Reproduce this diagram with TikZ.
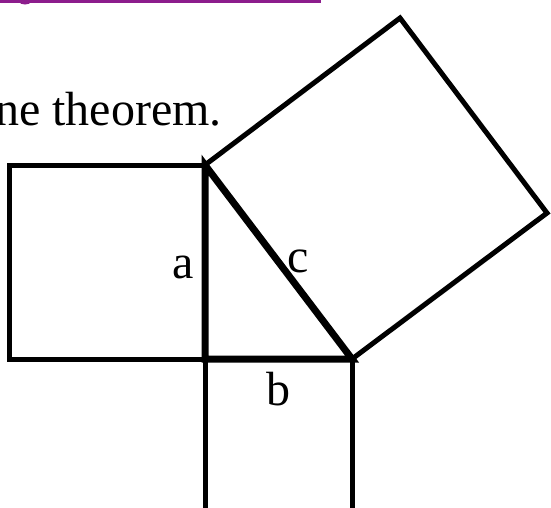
\documentclass[tikz,border=0pt]{standalone}
\usepackage{fontspec}
\setmainfont{Liberation Serif}
\definecolor{hdpurple}{HTML}{8C1D8C}
\usetikzlibrary{positioning}

\begin{document}
\begin{tikzpicture}[x=1pt,y=-1pt,
  sqline/.style={line width=5pt,line join=miter},
  triline/.style={line width=7pt,line join=miter},
  lbl/.style={font=\fontsize{48}{50}\selectfont,inner sep=0pt,anchor=base}]
  \useasboundingbox (0,0) rectangle (551,507);
  % heading rule, cut off at the top
  \draw[hdpurple,line width=3pt] (0,1) -- (321,1);
  \draw[hdpurple,line width=3pt] (25,-5) circle (8);
  \node[lbl,anchor=base east] (caption) at (222,125) {ne theorem.};
  % corners of the triangle
  \coordinate (top) at (205,165);
  \coordinate (rt) at (205,359);
  \coordinate (bot) at (352,359);
  % squares on the sides
  \draw[sqline] (rt) -- (9,359) -- (9,165) -- (top);
  \draw[sqline] (top) -- (400,18) -- (547,213) -- (bot);
  \draw[sqline] (rt) -- (205,515);
  \draw[sqline] (bot) -- (352,515);
  \draw[triline] (top) -- (rt) -- (bot) -- cycle;
  \node[lbl] (sidea) at (183,278) {a};
  \node[lbl] (sideb) at (278,405) {b};
  \node[lbl] (sidec) at (298,272) {c};
\end{tikzpicture}
\end{document}
